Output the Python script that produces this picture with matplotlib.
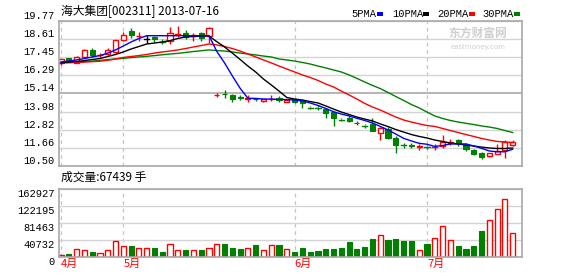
import numpy as np
import matplotlib
matplotlib.use("Agg")
import matplotlib.pyplot as plt
from matplotlib.patches import Rectangle

# ---------------- data ----------------
opens = [17.07, 17.38, 17.10, 17.45, 17.92, 17.58, 17.64, 17.77, 18.56, 19.13,
         18.79, 18.60, 18.77, 18.47, 18.51, 18.92, 19.02, 18.82, 18.98, 18.81,
         15.02, 15.12, 15.04, 14.89, 14.80, 14.80, 14.66, 14.76, 14.83, 14.61,
         14.77, 14.66, 14.25, 14.25, 14.14, 13.93, 13.50, 13.55, 13.26, 13.10,
         13.17, 12.59, 12.87, 12.31, 11.86, 11.82, 11.71, 11.75, 11.71, 11.78,
         11.97, 12.16, 11.84, 11.52, 11.31, 11.14, 11.27, 11.52, 11.84]
highs = [17.35, 17.40, 17.52, 17.95, 18.06, 17.75, 18.02, 18.58, 19.05, 19.34,
         19.09, 18.88, 18.80, 18.60, 19.37, 19.45, 19.20, 18.98, 19.05, 19.41,
         15.19, 15.36, 15.10, 15.04, 15.04, 14.87, 14.80, 15.04, 15.00, 14.78,
         14.85, 14.72, 14.35, 14.40, 14.16, 13.95, 13.60, 13.70, 13.38, 13.17,
         13.55, 13.00, 13.02, 12.44, 12.00, 11.95, 11.88, 11.85, 11.91, 12.48,
         12.20, 12.25, 12.00, 11.60, 11.40, 11.35, 11.91, 12.16, 12.16]
lows = [16.96, 17.12, 17.08, 17.42, 17.45, 17.50, 17.60, 17.75, 18.50, 18.66,
        18.49, 18.38, 18.45, 18.33, 18.28, 18.77, 18.60, 18.51, 18.51, 18.34,
        14.89, 14.83, 14.60, 14.72, 14.57, 14.66, 14.60, 14.66, 14.60, 14.57,
        14.50, 14.23, 14.12, 14.10, 13.55, 13.05, 13.36, 13.30, 13.10, 12.94,
        12.74, 12.16, 12.25, 11.31, 11.66, 11.62, 11.52, 11.60, 11.52, 11.65,
        11.84, 11.78, 11.45, 11.20, 10.95, 11.10, 11.25, 10.99, 11.78]
closes = [17.32, 17.17, 17.49, 17.92, 17.60, 17.62, 17.92, 18.56, 18.88, 18.88,
          18.83, 18.60, 18.60, 18.44, 19.02, 18.95, 18.73, 18.86, 18.66, 19.30,
          15.06, 15.08, 14.77, 14.86, 14.85, 14.77, 14.78, 14.80, 14.70, 14.72,
          14.57, 14.50, 14.22, 14.22, 13.87, 13.60, 13.47, 13.38, 13.22, 13.07,
          12.74, 12.95, 12.31, 11.84, 11.83, 11.79, 11.75, 11.72, 11.74, 12.05,
          12.01, 11.95, 11.57, 11.25, 11.10, 11.31, 11.48, 12.05, 12.05]
volumes = [5600, 6400, 20000, 16000, 11000, 10500, 16000, 37500, 25500, 25500,
           22400, 22400, 20700, 11000, 32000, 17600, 16000, 16000, 16000, 22400,
           32000, 30300, 20700, 18400, 22400, 28000, 16000, 29600, 28000, 19200,
           11000, 20700, 11000, 13600, 20000, 18400, 20700, 35100, 18400, 23100,
           42300, 53500, 40000, 42300, 37500, 37500, 17600, 30300, 46300, 75100,
           40000, 25500, 18400, 25500, 61500, 89500, 115800, 139800, 58300]
# 1 = up (red hollow), -1 = down (green filled), 0 = flat (black)
direction = [1, -1, 1, 1, -1, 1, 1, 1, 1, -1, 1, 0, -1, -1, 1, 1, -1, 1, -1, 1,
             1, -1, -1, -1, 1, -1, 1, 1, -1, 1, -1, -1, -1, -1, -1, -1, -1, -1, -1, -1,
             -1, 1, -1, -1, -1, -1, 1, -1, 1, 1, 1, -1, -1, -1, -1, 1, 1, 1, 1]
vol_up = [1, -1, 1, 1, -1, 1, 1, 1, 1, -1, 1, 1, -1, -1, 1, 1, -1, 1, -1, 1,
          1, -1, -1, -1, 1, -1, 1, 1, -1, 1, -1, -1, -1, -1, -1, -1, -1, -1, -1, -1,
          -1, 1, -1, -1, -1, -1, 1, -1, 1, 1, 1, -1, -1, -1, -1, 1, 1, 1, 1]

ma5 = [17.15, 17.21, 17.28, 17.37, 17.47, 17.56, 17.72, 17.92, 18.17, 18.43,
       18.65, 18.83, 18.83, 18.83, 18.83, 18.83, 18.83, 18.83, 18.83, 18.84,
       17.83, 17.09, 16.26, 15.47, 14.83, 14.82, 14.78, 14.78, 14.75, 14.75,
       14.72, 14.66, 14.53, 14.37, 14.18, 13.97, 13.82, 13.70, 13.55, 13.41,
       13.25, 13.03, 12.80, 12.54, 12.27, 12.10, 11.95, 11.89, 11.75, 11.81,
       11.91, 11.91, 11.91, 11.78, 11.63, 11.46, 11.41, 11.41, 11.57]
ma10 = [17.09, 17.15, 17.18, 17.24, 17.31, 17.37, 17.50, 17.63, 17.79, 17.98,
        18.14, 18.30, 18.36, 18.43, 18.52, 18.65, 18.75, 18.78, 18.81, 18.81,
        18.45, 18.11, 17.72, 17.31, 16.89, 16.51, 16.06, 15.68, 15.29, 14.88,
        14.78, 14.72, 14.62, 14.53, 14.34, 14.14, 13.95, 13.79, 13.63, 13.50,
        13.38, 13.19, 13.02, 12.83, 12.67, 12.51, 12.39, 12.29, 12.16, 12.07,
        11.97, 11.91, 11.84, 11.78, 11.71, 11.65, 11.62, 11.62, 11.65]
ma20 = [17.09, 17.10, 17.12, 17.14, 17.17, 17.20, 17.26, 17.34, 17.44, 17.50,
        17.56, 17.63, 17.72, 17.79, 17.85, 17.92, 18.01, 18.11, 18.20, 18.30,
        18.24, 18.14, 18.01, 17.85, 17.66, 17.47, 17.28, 17.09, 16.89, 16.70,
        16.51, 16.32, 16.16, 15.97, 15.74, 15.55, 15.29, 15.04, 14.78, 14.50,
        14.27, 14.08, 13.85, 13.63, 13.44, 13.31, 13.19, 13.09, 13.03, 12.90,
        12.77, 12.64, 12.51, 12.39, 12.26, 12.16, 12.07, 12.04, 12.00]
ma30 = [17.12, 17.14, 17.15, 17.18, 17.21, 17.25, 17.30, 17.34, 17.38, 17.43,
        17.47, 17.51, 17.56, 17.61, 17.66, 17.70, 17.76, 17.82, 17.87, 17.92,
        17.88, 17.85, 17.79, 17.72, 17.66, 17.60, 17.53, 17.47, 17.34, 17.28,
        17.21, 17.12, 17.02, 16.89, 16.77, 16.64, 16.51, 16.32, 16.10, 15.87,
        15.65, 15.45, 15.20, 14.94, 14.69, 14.43, 14.21, 13.95, 13.70, 13.54,
        13.41, 13.31, 13.23, 13.15, 13.06, 12.99, 12.90, 12.77, 12.64]

price_ticks = [10.50, 11.66, 12.82, 13.98, 15.14, 16.29, 17.45, 18.61, 19.77]
vol_ticks = [0, 40732, 81463, 122195, 162927]
month_pos = [0, 8, 30, 47]
month_labels = ["4月", "5月", "6月", "7月"]
title_text = "海大集团[002311] 2013-07-16"
vol_text = "成交量:67439 手"
ma_names = ["5PMA", "10PMA", "20PMA", "30PMA"]

# ---------------- style ----------------
RED = "#ff0000"
GREEN = "#008000"
FRAME = "#a8a8a8"
GRID = "#d4d4d4"
NUMFONT = ["Liberation Mono", "DejaVu Sans Mono"]
CJK = ["Noto Sans CJK SC", "DejaVu Sans"]

W, H = 578, 276
fig = plt.figure(figsize=(W / 100, H / 100), dpi=100)
fig.patch.set_facecolor("white")

def fx(px):
    return px / W

def fy(py):
    return 1 - py / H

axp = fig.add_axes([fx(59), fy(166), fx(522 - 59), (166 - 21) / H])
axv = fig.add_axes([fx(59), fy(257), fx(522 - 59), (257 - 189) / H])

n = len(closes)
x = np.arange(n)
xlim = (-0.26, 59.2)

for ax in (axp, axv):
    ax.set_xlim(*xlim)
    for s in ax.spines.values():
        s.set_color(FRAME)
        s.set_linewidth(1.2)
    ax.tick_params(axis="both", length=0, colors="black")
    for mp in month_pos:
        ax.axvline(mp, color="#c4c4c4", lw=0.9, ls=(0, (3, 3)), zorder=0.5)

# price panel
axp.set_ylim(price_ticks[0], price_ticks[-1])
axp.set_yticks(price_ticks)
axp.set_yticklabels([f"{v:.2f}" for v in price_ticks], fontfamily=NUMFONT, fontsize=7.5)
for lbl in axp.get_yticklabels():
    lbl.set_va("bottom")
axp.tick_params(axis="y", pad=3)
axp.set_xticks([])
axp.yaxis.grid(True, color=GRID, lw=1.0)
axp.set_axisbelow(True)
gl = axp.get_ygridlines()
gl[4].set_color(FRAME)
gl[4].set_linewidth(1.2)

bw = 0.66
for i in range(n):
    o, h, l, c = opens[i], highs[i], lows[i], closes[i]
    d = direction[i]
    col = RED if d > 0 else (GREEN if d < 0 else "black")
    lo_b, hi_b = min(o, c), max(o, c)
    axp.plot([i, i], [l, lo_b], color=col, lw=1.0, zorder=2, solid_capstyle="butt")
    axp.plot([i, i], [hi_b, h], color=col, lw=1.0, zorder=2, solid_capstyle="butt")
    if hi_b - lo_b < 0.03:
        axp.plot([i - bw / 2, i + bw / 2], [c, c], color=col, lw=1.0, zorder=2)
    elif d > 0:
        axp.add_patch(Rectangle((i - bw / 2, lo_b), bw, hi_b - lo_b, facecolor="white",
                                edgecolor=col, lw=1.0, zorder=2))
    else:
        axp.add_patch(Rectangle((i - bw / 2, lo_b), bw, hi_b - lo_b, facecolor=col,
                                edgecolor=col, lw=0.8, zorder=2))

axp.plot(x, ma30, color=GREEN, lw=1.0, zorder=3)
axp.plot(x, ma20, color=RED, lw=1.0, zorder=3)
axp.plot(x, ma10, color="black", lw=1.0, zorder=3)
axp.plot(x, ma5, color="#0000ff", lw=1.0, zorder=3)

# watermark
axp.text(0.905, 0.915, "东方财富网", transform=axp.transAxes, fontsize=8.5,
         fontfamily=CJK, color="#cfcfcf", ha="center", va="center", fontweight="bold")
axp.text(0.905, 0.82, "eastmoney.com", transform=axp.transAxes, fontsize=5,
         fontfamily=["DejaVu Sans"], color="#cfcfcf", ha="center", va="center")

# volume panel
axv.set_ylim(vol_ticks[0], vol_ticks[-1])
axv.set_yticks(vol_ticks)
axv.set_yticklabels([str(v) for v in vol_ticks], fontfamily=NUMFONT, fontsize=7.5)
for lbl in axv.get_yticklabels():
    lbl.set_va("top")
axv.tick_params(axis="y", pad=3)
axv.yaxis.grid(True, color=GRID, lw=1.0)
axv.set_axisbelow(True)
for i in range(n):
    if vol_up[i] > 0:
        axv.add_patch(Rectangle((i - bw / 2, 0), bw, volumes[i], facecolor="white",
                                edgecolor=RED, lw=1.0, zorder=2))
    else:
        axv.add_patch(Rectangle((i - bw / 2, 0), bw, volumes[i], facecolor=GREEN,
                                edgecolor=GREEN, lw=0.8, zorder=2))
axv.set_xticks(month_pos)
axv.set_xticklabels(month_labels, fontfamily=CJK, fontsize=8, color=RED)
for lbl in axv.get_xticklabels():
    lbl.set_ha("left")
axv.tick_params(axis="x", pad=1)

# texts
fig.text(fx(61), fy(12), title_text, fontfamily=CJK, fontsize=8.5, va="center", ha="left")
fig.text(fx(61), fy(177), vol_text, fontfamily=CJK, fontsize=8.5, va="center", ha="left")

ma_cols = ["#0000ff", "black", RED, GREEN]
ma_x = [351, 392, 437, 482]
sq_x = [377, 423, 469, 514]
for name, c, tx, sx in zip(ma_names, ma_cols, ma_x, sq_x):
    fig.text(fx(tx), fy(14), name, fontfamily=NUMFONT, fontsize=7.5, va="center", ha="left")
    fig.patches.append(Rectangle((fx(sx), fy(15.5)), 6 / W, 3 / H, transform=fig.transFigure,
                                 facecolor=c, edgecolor="none"))

fig.savefig("out.png", dpi=100, facecolor="white")
